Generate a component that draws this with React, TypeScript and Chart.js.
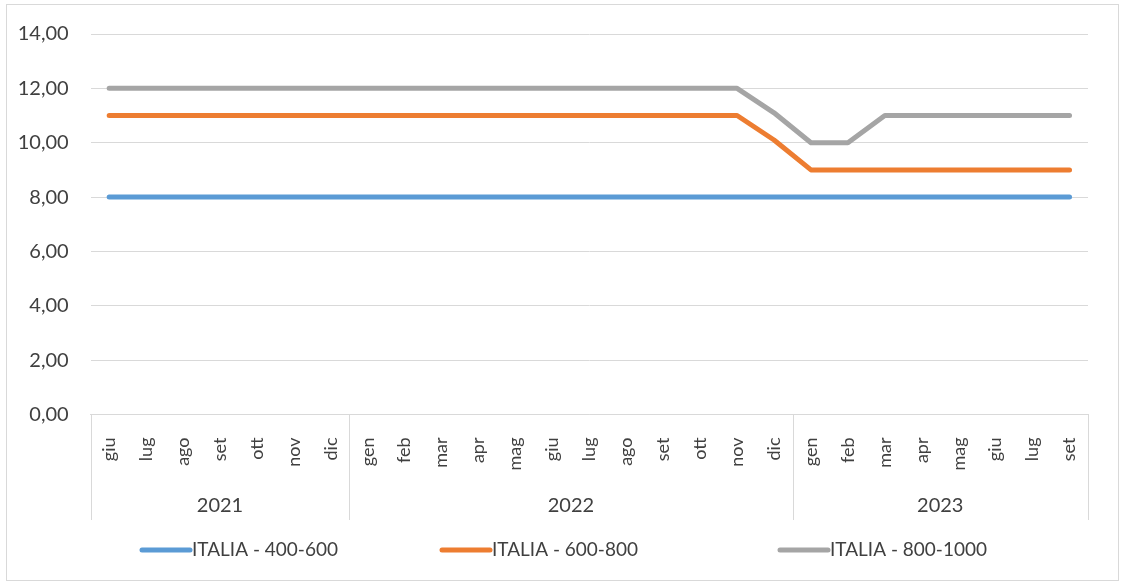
import React, { useEffect, useRef } from "react";
import { Chart, registerables } from "chart.js";

Chart.register(...registerables);

const years = ["2021", "2022", "2023"];
const months2021 = ["giu", "lug", "ago", "set", "ott", "nov", "dic"];
const months2022 = ["gen", "feb", "mar", "apr", "mag", "giu", "lug", "ago", "set", "ott", "nov", "dic"];
const months2023 = ["gen", "feb", "mar", "apr", "mag", "giu", "lug", "set"];
const monthGroups = [months2021, months2022, months2023];
const categories = [...months2021, ...months2022, ...months2023];

const seriesNames = ["ITALIA - 400-600", "ITALIA - 600-800", "ITALIA - 800-1000"];
const seriesColors = ["#5B9BD5", "#ED7D31", "#A5A5A5"];

const italia400_600 = [
  8, 8, 8, 8, 8, 8, 8,
  8, 8, 8, 8, 8, 8, 8, 8, 8, 8, 8, 8,
  8, 8, 8, 8, 8, 8, 8, 8,
];
const italia600_800 = [
  11, 11, 11, 11, 11, 11, 11,
  11, 11, 11, 11, 11, 11, 11, 11, 11, 11, 11, 10.1,
  9, 9, 9, 9, 9, 9, 9, 9,
];
const italia800_1000 = [
  12, 12, 12, 12, 12, 12, 12,
  12, 12, 12, 12, 12, 12, 12, 12, 12, 12, 12, 11.1,
  10, 10, 11, 11, 11, 11, 11, 11,
];
const seriesValues = [italia400_600, italia600_800, italia800_1000];

const yTicks = [0, 2, 4, 6, 8, 10, 12, 14];

const FONT = "Lato, 'Noto Sans', sans-serif";
const TEXT = "#404040";
const GRID = "#d9d9d9";

const groupPlugin = {
  id: "yearGroups",
  afterDraw(chart: any) {
    const { ctx, chartArea, scales } = chart;
    const x = scales.x;
    const half = (x.getPixelForValue(1) - x.getPixelForValue(0)) / 2;
    const top = chartArea.bottom;
    const bottom = 520;
    ctx.save();
    ctx.strokeStyle = GRID;
    ctx.lineWidth = 1;
    ctx.fillStyle = TEXT;
    ctx.font = `20px ${FONT}`;
    ctx.textAlign = "center";
    ctx.textBaseline = "middle";
    let start = 0;
    monthGroups.forEach((g, i) => {
      const left = x.getPixelForValue(start) - half;
      const right = x.getPixelForValue(start + g.length - 1) + half;
      if (i === 0) {
        ctx.beginPath();
        ctx.moveTo(Math.round(left) + 0.5, top);
        ctx.lineTo(Math.round(left) + 0.5, bottom);
        ctx.stroke();
      }
      ctx.beginPath();
      ctx.moveTo(Math.round(right) + 0.5, top);
      ctx.lineTo(Math.round(right) + 0.5, bottom);
      ctx.stroke();
      ctx.fillText(years[i], (left + right) / 2, 506);
      start += g.length;
    });

    // legend
    const starts = [140, 440, 778];
    const ly = 550;
    ctx.textAlign = "left";
    ctx.font = `19px ${FONT}`;
    chart.data.datasets.forEach((ds: any, i: number) => {
      const sx = starts[i];
      ctx.strokeStyle = ds.borderColor;
      ctx.lineWidth = 5;
      ctx.lineCap = "round";
      ctx.beginPath();
      ctx.moveTo(sx + 2, ly);
      ctx.lineTo(sx + 50, ly);
      ctx.stroke();
      ctx.fillStyle = TEXT;
      ctx.fillText(ds.label, sx + 52, ly);
    });
    ctx.restore();
  },
};

export default function App() {
  const ref = useRef<HTMLCanvasElement | null>(null);
  useEffect(() => {
    if (!ref.current) return;
    const chart = new Chart(ref.current, {
      type: "line",
      data: {
        labels: categories,
        datasets: seriesValues.map((vals, i) => ({
          label: seriesNames[i],
          data: vals,
          borderColor: seriesColors[i],
          backgroundColor: seriesColors[i],
          borderWidth: 5,
          pointRadius: 0,
          tension: 0,
          borderJoinStyle: "round",
          borderCapStyle: "round",
          fill: false,
        })),
      },
      options: {
        animation: false,
        responsive: false,
        maintainAspectRatio: false,
        layout: { padding: { left: 0, right: 37, top: 32, bottom: 0 } },
        plugins: {
          legend: { display: false },
          tooltip: { enabled: false },
        },
        scales: {
          x: {
            type: "category",
            offset: true,
            grid: { display: false },
            border: { display: true, color: GRID, width: 1 },
            ticks: {
              autoSkip: false,
              minRotation: 90,
              maxRotation: 90,
              padding: 15,
              color: TEXT,
              font: { family: FONT, size: 18 },
            },
            afterFit: (s: any) => {
              s.height = 170.5;
            },
          },
          y: {
            min: 0,
            max: 14,
            afterBuildTicks: (s: any) => {
              s.ticks = yTicks.map((v) => ({ value: v }));
            },
            ticks: {
              padding: 22,
              color: TEXT,
              font: { family: FONT, size: 20 },
              callback: (v: any) => Number(v).toFixed(2).replace(".", ","),
            },
            grid: { color: GRID, drawTicks: false, lineWidth: 1 },
            border: { display: false },
            afterFit: (s: any) => {
              s.width = 90.7;
            },
          },
        },
      },
      plugins: [groupPlugin],
    });
    return () => chart.destroy();
  }, []);

  return (
    <div style={{ position: "fixed", left: 0, top: 0, width: 1125, height: 585, background: "#fff" }}>
      <canvas ref={ref} width={1125} height={585} style={{ position: "absolute", left: 0, top: 0, width: 1125, height: 585 }} />
      <div
        style={{
          position: "absolute",
          left: 6,
          top: 4,
          width: 1113,
          height: 577,
          border: `1px solid ${GRID}`,
          boxSizing: "border-box",
          pointerEvents: "none",
        }}
      />
    </div>
  );
}
